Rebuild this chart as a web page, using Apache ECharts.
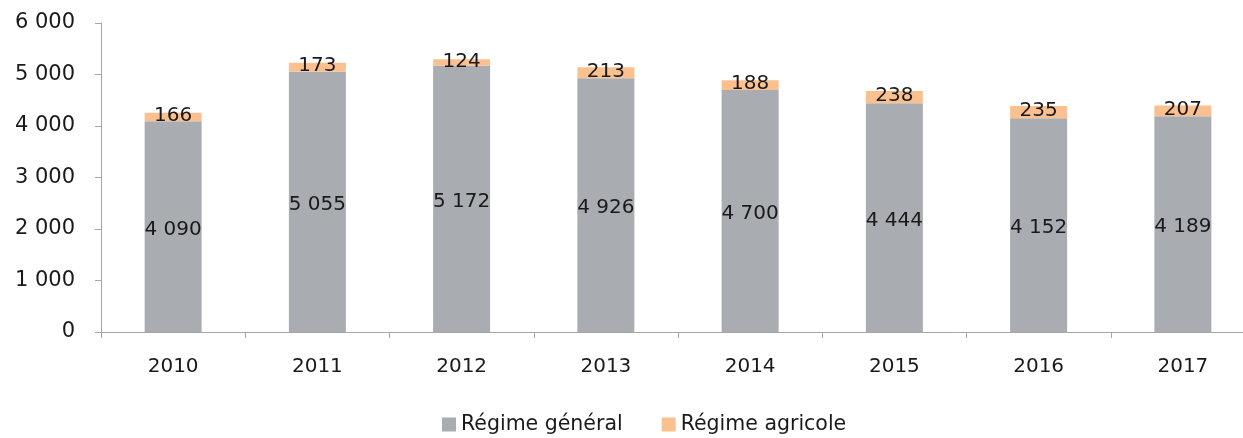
<!DOCTYPE html>
<html><head><meta charset="utf-8">
<script src="https://cdn.jsdelivr.net/npm/echarts@6/dist/echarts.min.js"></script>
<style>html,body{margin:0;padding:0;background:#fff}#c{width:1243px;height:438px}</style>
</head><body><div id="c"></div>
<script>
const categories = ['2010','2011','2012','2013','2014','2015','2016','2017'];
const regimeGeneral = [4090,5055,5172,4926,4700,4444,4152,4189];
const regimeAgricole = [166,173,124,213,188,238,235,207];
const fmt = v => String(v).replace(/\B(?=(\d{3})+(?!\d))/g, ' ');
const FONT = 'DejaVu Sans';
const TXT = '#1a1a1a';
const chart = echarts.init(document.getElementById('c'));
chart.setOption({
  animation:false,
  grid:{left:101, width:1154, top:23, height:309, containLabel:false, outerBoundsMode:'none'},
  legend:{top:409, left:437, itemWidth:14, itemHeight:14, itemGap:39, icon:'rect',
    textStyle:{fontFamily:FONT, fontSize:20.5, color:TXT},
    data:['Régime général','Régime agricole']},
  xAxis:{type:'category', data:categories,
    axisLine:{lineStyle:{color:'#a6a6a6'}},
    axisTick:{show:true, alignWithLabel:false, length:6, lineStyle:{color:'#a6a6a6'}},
    axisLabel:{fontFamily:FONT, fontSize:20, color:TXT, margin:25}},
  yAxis:{type:'value', min:0, max:6000, interval:1000,
    axisLine:{show:true, lineStyle:{color:'#a6a6a6'}},
    axisTick:{show:true, length:6, lineStyle:{color:'#a6a6a6'}},
    splitLine:{show:false},
    axisLabel:{fontFamily:FONT, fontSize:21, color:TXT, margin:26, formatter:fmt}},
  series:[
    {name:'Régime général', type:'bar', stack:'t', data:regimeGeneral, barWidth:57,
     itemStyle:{color:'#a9acb0'},
     label:{show:true, position:'inside', offset:[0,3], fontFamily:FONT, fontSize:20, color:TXT, formatter:p=>fmt(p.value)}},
    {name:'Régime agricole', type:'bar', stack:'t', data:regimeAgricole, barWidth:57,
     itemStyle:{color:'#fac090'},
     label:{show:true, position:'inside', offset:[0,-1], fontFamily:FONT, fontSize:20, color:TXT, formatter:p=>fmt(p.value)}}
  ]
});
</script></body></html>
